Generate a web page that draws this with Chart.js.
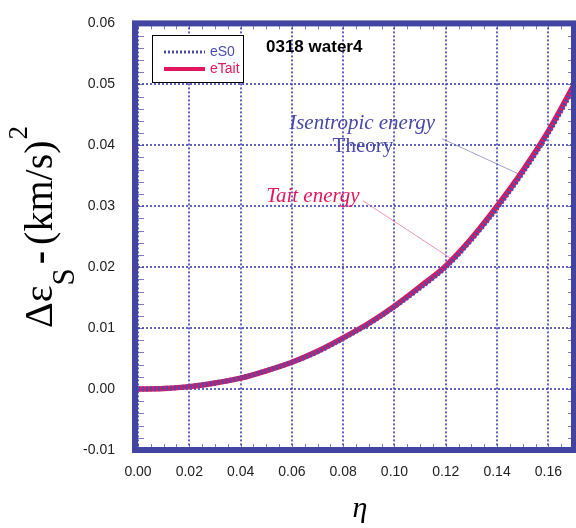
<!DOCTYPE html>
<html>
<head>
<meta charset="utf-8">
<script src="https://cdn.jsdelivr.net/npm/chart.js@4/dist/chart.umd.min.js"></script>
<style>
  html, body { margin: 0; padding: 0; background: #fff; }
  #wrap { width: 576px; height: 528px; }
</style>
</head>
<body>
<div id="wrap"><canvas id="energyChart" width="576" height="528"></canvas></div>
<script>
// values
const eta = [0, 0.01, 0.02, 0.03, 0.04, 0.05, 0.06, 0.07, 0.08, 0.09, 0.10, 0.11, 0.12, 0.13, 0.14, 0.15, 0.16, 0.17];
const eS0 = [0, 0.0001, 0.0004, 0.0010, 0.0018, 0.0030, 0.0044, 0.0061, 0.0083, 0.0107, 0.0135, 0.0166, 0.0200, 0.0245, 0.0297, 0.0355, 0.0420, 0.0495];
const eTait = [0, 0.0001, 0.0004, 0.0010, 0.0018, 0.0030, 0.0044, 0.0062, 0.0084, 0.0108, 0.0136, 0.0168, 0.0202, 0.0247, 0.0300, 0.0358, 0.0423, 0.0499];
const xTickValues = [0, 0.02, 0.04, 0.06, 0.08, 0.10, 0.12, 0.14, 0.16];
const yTickValues = [-0.01, 0, 0.01, 0.02, 0.03, 0.04, 0.05, 0.06];

const FRAME = '#4343a1';
const BLUE = '#4c4cb0';
const RED = '#e0175c';

// text labels placed in data units
const notes = [
  { text: 'Isentropic energy', x: 0.0874, y: 0.0426, font: 'italic 21px "Liberation Serif"', color: '#4848a8' },
  { text: 'Theory', x: 0.0877, y: 0.0389, font: '21px "Liberation Serif"', color: '#4848a8' },
  { text: 'Tait energy', x: 0.0682, y: 0.0307, font: 'italic 21px "Liberation Serif"', color: RED }
];
const leaders = [
  { from: [0.1185, 0.0411], to: [0.1489, 0.0352], color: 'rgba(120,120,200,0.7)' },
  { from: [0.0877, 0.0309], to: [0.1228, 0.0212], color: 'rgba(235,100,150,0.7)' }
];

const framePlugin = {
  id: 'framePlugin',
  beforeDatasetsDraw(chart) {
    const { ctx, chartArea: a, scales: { x, y } } = chart;
    ctx.save();
    ctx.strokeStyle = 'rgba(70,70,180,0.85)';
    ctx.lineWidth = 2;
    ctx.setLineDash([2, 2]);
    xTickValues.forEach(v => {
      const px = Math.round(x.getPixelForValue(v));
      ctx.beginPath(); ctx.moveTo(px, a.top); ctx.lineTo(px, a.bottom); ctx.stroke();
    });
    yTickValues.forEach(v => {
      const py = Math.round(y.getPixelForValue(v));
      ctx.beginPath(); ctx.moveTo(a.left, py); ctx.lineTo(a.right, py); ctx.stroke();
    });
    ctx.setLineDash([]);

    // minor ticks on the inside of the frame
    ctx.strokeStyle = 'rgba(67,67,161,0.7)';
    ctx.lineWidth = 1;
    for (let v = 0; v <= 0.17 + 1e-9; v += 0.005) {
      const px = Math.round(x.getPixelForValue(v)) + 0.5;
      ctx.beginPath();
      ctx.moveTo(px, a.top); ctx.lineTo(px, a.top + 6);
      ctx.moveTo(px, a.bottom); ctx.lineTo(px, a.bottom - 6);
      ctx.stroke();
    }
    for (let v = -0.01; v <= 0.06 + 1e-9; v += 0.002) {
      const py = Math.round(y.getPixelForValue(v)) + 0.5;
      ctx.beginPath();
      ctx.moveTo(a.left, py); ctx.lineTo(a.left + 6, py);
      ctx.moveTo(a.right, py); ctx.lineTo(a.right - 6, py);
      ctx.stroke();
    }

    // leader lines
    leaders.forEach(l => {
      ctx.strokeStyle = l.color;
      ctx.beginPath();
      ctx.moveTo(x.getPixelForValue(l.from[0]), y.getPixelForValue(l.from[1]));
      ctx.lineTo(x.getPixelForValue(l.to[0]), y.getPixelForValue(l.to[1]));
      ctx.stroke();
    });

    notes.forEach(n => {
      ctx.font = n.font;
      ctx.fillStyle = n.color;
      ctx.textAlign = 'center';
      ctx.textBaseline = 'alphabetic';
      ctx.fillText(n.text, x.getPixelForValue(n.x), y.getPixelForValue(n.y));
    });
    ctx.restore();
  },
  afterDraw(chart) {
    const { ctx, chartArea: a } = chart;
    ctx.save();
    // thick frame
    ctx.strokeStyle = FRAME;
    ctx.lineWidth = 6;
    ctx.strokeRect(a.left - 3, a.top, a.right - a.left + 3, a.bottom - a.top);

    // legend
    ctx.fillStyle = '#fff';
    ctx.fillRect(152.5, 35.5, 91, 47);
    ctx.strokeStyle = '#000';
    ctx.lineWidth = 1;
    ctx.strokeRect(152.5, 35.5, 91, 47);
    ctx.font = '14px "Liberation Sans"';
    ctx.textAlign = 'left';
    ctx.textBaseline = 'middle';
    chart.data.datasets.forEach((ds, i) => {
      const ly = 52 + i * 17;
      ctx.strokeStyle = ds.borderColor;
      ctx.lineWidth = i === 0 ? 3 : 4;
      ctx.setLineDash(ds.borderDash || []);
      ctx.beginPath(); ctx.moveTo(164, ly); ctx.lineTo(205, ly); ctx.stroke();
      ctx.setLineDash([]);
      ctx.fillStyle = ds.borderColor;
      ctx.fillText(ds.label, 210, ly);
    });

    ctx.fillStyle = '#000';
    ctx.font = 'bold 17px "Liberation Sans"';
    ctx.textBaseline = 'alphabetic';
    ctx.fillText('0318 water4', 266, 52);

    // x title
    ctx.font = 'italic 30px "Liberation Serif"';
    ctx.textAlign = 'center';
    ctx.fillText('η', 360, 517);

    // y title with sub/superscript
    ctx.translate(52, 328);
    ctx.rotate(-Math.PI / 2);
    ctx.textAlign = 'left';
    let p = 0;
    ctx.font = '40px "Liberation Serif"';
    ctx.fillText('Δε', p, 0); p += ctx.measureText('Δε').width;
    ctx.font = '31px "Liberation Serif"';
    ctx.fillText('S', p, 22); p += ctx.measureText('S').width + 4;
    ctx.font = 'bold 40px "Liberation Serif"';
    ctx.fillText('-', p, 0); p += ctx.measureText('-').width + 6;
    ctx.font = '40px "Liberation Serif"';
    ctx.fillText('(km/s)', p, 0); p += ctx.measureText('(km/s)').width + 1;
    ctx.font = '27px "Liberation Serif"';
    ctx.fillText('2', p, -25);
    ctx.restore();
  }
};

new Chart(document.getElementById('energyChart'), {
  type: 'line',
  data: {
    datasets: [
      {
        label: 'eS0',
        data: eta.map((v, i) => ({ x: v, y: eS0[i] })),
        borderColor: BLUE,
        borderWidth: 5,
        borderDash: [2, 2],
        pointRadius: 0,
        tension: 0.4,
        cubicInterpolationMode: 'monotone'
      },
      {
        label: 'eTait',
        data: eta.map((v, i) => ({ x: v, y: eTait[i] })),
        borderColor: RED,
        borderWidth: 5.5,
        pointRadius: 0,
        tension: 0.4,
        cubicInterpolationMode: 'monotone'
      }
    ]
  },
  options: {
    responsive: false,
    animation: false,
    layout: { padding: { top: 12, right: 2, left: 0, bottom: 0 } },
    plugins: { legend: { display: false }, tooltip: { enabled: false } },
    scales: {
      x: {
        type: 'linear',
        min: 0,
        max: 0.17,
        afterBuildTicks: s => { s.ticks = xTickValues.map(v => ({ value: v })); },
        afterFit: s => { s.height = 78; },
        grid: { display: false },
        border: { display: false },
        ticks: {
          padding: 6,
          color: '#222',
          font: { family: 'Liberation Sans', size: 14 },
          callback: v => v.toFixed(2),
          maxRotation: 0
        }
      },
      y: {
        min: -0.01,
        max: 0.06,
        afterBuildTicks: s => { s.ticks = yTickValues.map(v => ({ value: v })); },
        afterFit: s => { s.width = 138; },
        grid: { display: false },
        border: { display: false },
        ticks: {
          padding: 15,
          color: '#222',
          font: { family: 'Liberation Sans', size: 14 },
          callback: v => v.toFixed(2)
        }
      }
    }
  },
  plugins: [framePlugin]
});
</script>
</body>
</html>
